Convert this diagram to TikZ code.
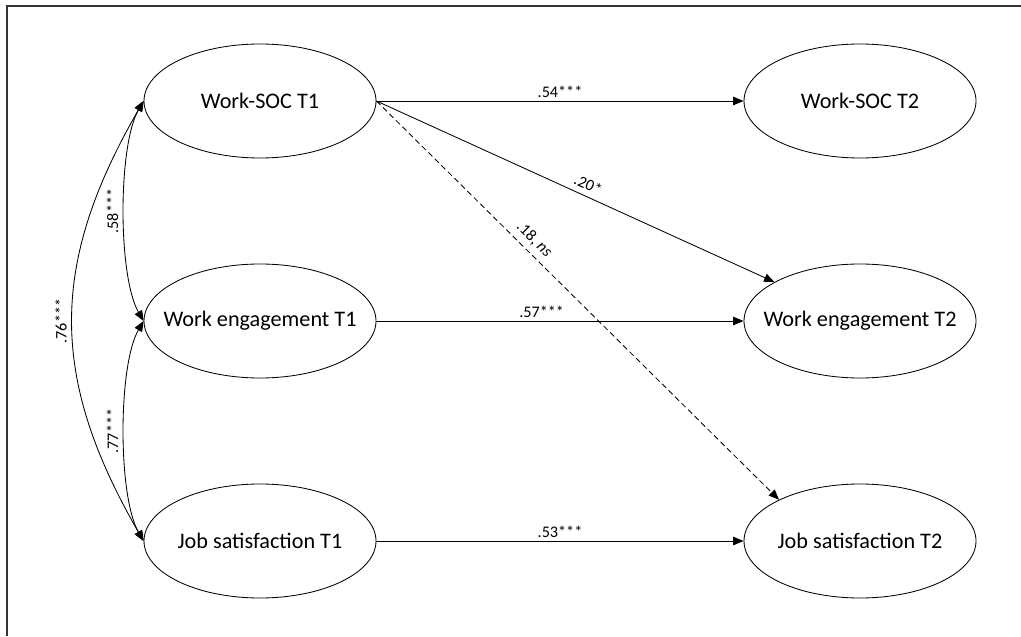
\documentclass[tikz,border=0pt]{standalone}
\usepackage{fontspec}
\setmainfont{Carlito}
\usetikzlibrary{shapes.geometric,positioning,arrows.meta}

\begin{document}
\begin{tikzpicture}[node distance=5.5cm and 15cm,on grid,line width=0.6pt,
   >={Triangle[length=2.6mm,width=2.1mm]},
   latent/.style={draw,ellipse,minimum width=5.8cm,minimum height=2.85cm,
      inner xsep=-6mm,inner ysep=0pt,font=\fontsize{15.8}{19}\selectfont},
   coef/.style={font=\fontsize{11.5}{13}\selectfont,inner sep=2pt},
   slopecoef/.style={coef,above,sloped,inner sep=4pt}]
   \useasboundingbox (0,0) rectangle (25.525,15.9);
   \draw[line width=1.3pt,black!80] (0.175,0) |- (25.525,15.75);
   \node[latent] (ws1) at (6.5,13.375) {Work-SOC T1};
   \node[latent] (we1) [below=of ws1] {Work engagement T1};
   \node[latent] (js1) [below=of we1] {Job satisfaction T1};
   \node[latent] (ws2) [right=of ws1] {Work-SOC T2};
   \node[latent] (we2) [right=of we1] {Work engagement T2};
   \node[latent] (js2) [right=of js1] {Job satisfaction T2};
   \path[->]
    (ws1.east) edge                node[coef,above] {.54***} (ws2.west)
               edge                node[slopecoef,pos=0.52] {.20*} (we2)
               edge [dash pattern=on 4pt off 2.5pt] node[slopecoef,pos=0.37] {.18, \textit{ns}} (js2.153)
    (we1.east) edge                node[coef,above,pos=0.45] {.57***} (we2.west)
    (js1.east) edge                node[coef,above] {.53***} (js2.west)
    ;
   \path[<->]
    (we1.west) edge [out=120,in=240,looseness=0.6] node[slopecoef] {.58***} (ws1.west)
    (js1.west) edge [out=120,in=240,looseness=0.6] node[slopecoef] {.77***} (we1.west)
    (js1.west) edge [out=120,in=240,looseness=1.1] node[slopecoef] {.76***} (ws1.west)
    ;
\end{tikzpicture}
\end{document}
